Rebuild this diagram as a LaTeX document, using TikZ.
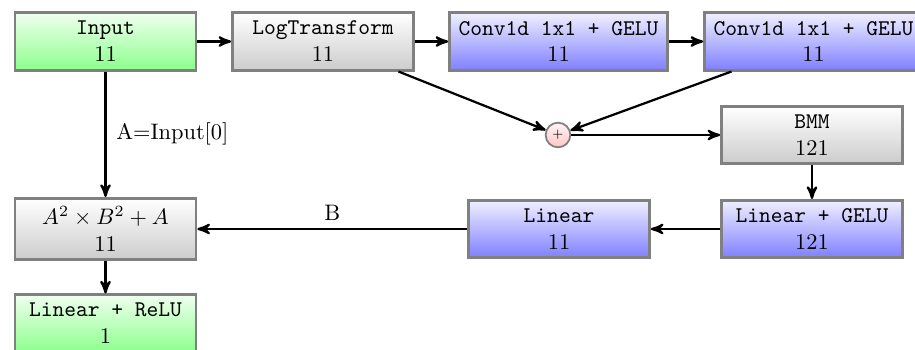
\documentclass[tikz,border=0pt]{standalone}
\usetikzlibrary{arrows}
\begin{document}
\begin{tikzpicture}[x=0.4464pt,y=-0.4464pt,
  blk/.style={rectangle, draw=black!50, line width=1.2pt, align=center,
    minimum width=80.8pt, minimum height=25.6pt, inner xsep=4pt, inner ysep=2pt},
  grn/.style={blk, top color=green!6, bottom color=green!45},
  gry/.style={blk, top color=white, bottom color=black!20},
  blu/.style={blk, top color=blue!6, bottom color=blue!50},
  addc/.style={circle, draw=black!50, line width=0.8pt, minimum size=11pt, inner sep=0pt,
    top color=red!4, bottom color=red!22},
  arr/.style={->, >=stealth', line width=1pt}]
\useasboundingbox (0,0) rectangle (915,350);
\node[grn] (in) at (105.5,41.5) {\texttt{Input}\\11};
\node[gry] (logt) at (323,41.5) {\texttt{LogTransform}\\11};
\node[blu] (conva) at (558.5,41.5) {\texttt{Conv1d 1x1 + GELU}\\11};
\node[blu] (convb) at (813.5,41.5) {\texttt{Conv1d 1x1 + GELU}\\11};
\node[addc] (plus) at (558,135) {\tiny +};
\node[gry] (bmm) at (812,135) {\texttt{BMM}\\121};
\node[blu] (lgelu) at (812,229) {\texttt{Linear + GELU}\\121};
\node[blu] (lin) at (559,229) {\texttt{Linear}\\11};
\node[gry, minimum height=27.4pt] (abox) at (105.5,229) {$A^2\times B^2+A$\\11};
\node[grn, anchor=north] (relu) at (105.5,293.5) {\texttt{Linear + ReLU}\\1};
\draw[arr] (in) -- (logt);
\draw[arr] (logt) -- (conva);
\draw[arr] (conva) -- (convb);
\draw[arr] (logt) -- (plus);
\draw[arr] (convb) -- (plus);
\draw[arr] (plus) -- (bmm);
\draw[arr] (bmm) -- (lgelu);
\draw[arr] (lgelu) -- (lin);
\draw[arr] (lin) -- node[above] (lb) {B} (abox);
\draw[arr] (in) -- node[right, xshift=1pt] (la) {A=Input[0]} (abox);
\draw[arr] (abox) -- (relu);
\end{tikzpicture}
\end{document}
